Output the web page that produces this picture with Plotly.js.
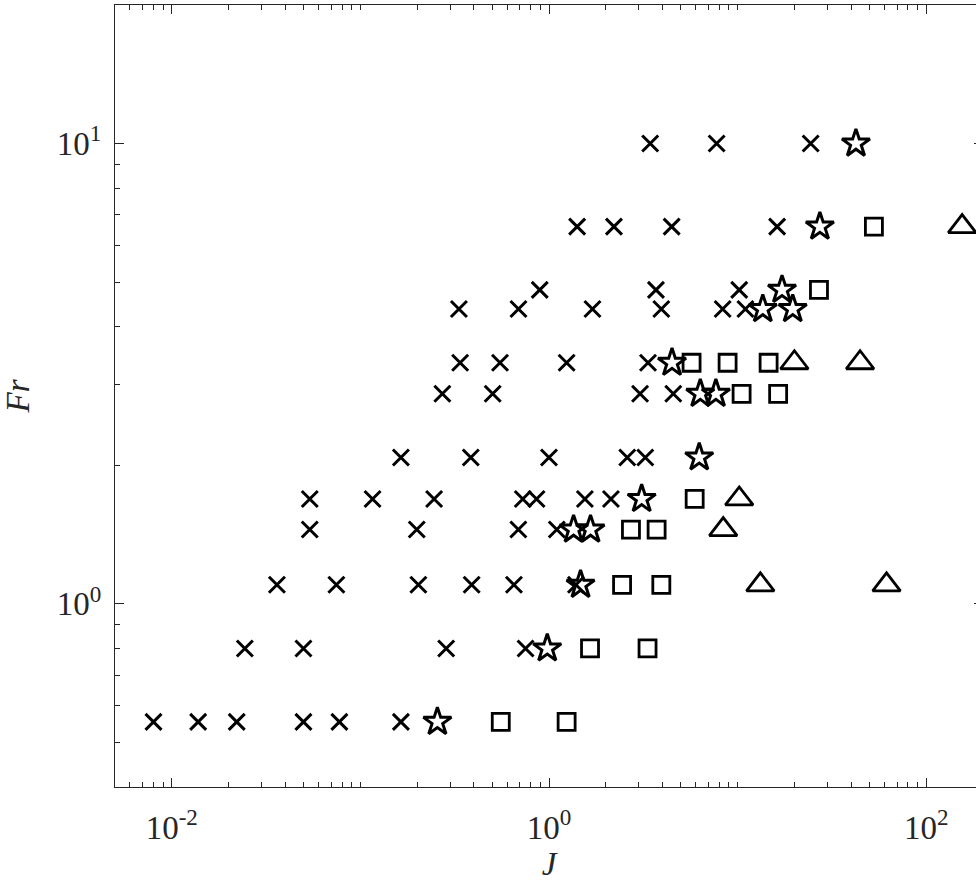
<!DOCTYPE html>
<html>
<head>
<meta charset="utf-8">
<script src="https://cdn.plot.ly/plotly-3.0.1.min.js"></script>
<style>
html, body { margin: 0; padding: 0; overflow: hidden; background: #fff; }
#chart { width: 1000px; height: 889px; }
</style>
</head>
<body>
<div id="chart"></div>
<script>
// Crosses (x markers)
var crossJ  = [3.44, 7.74, 24.4,
               1.41, 2.21, 4.47, 16.2,
               0.893, 3.69, 10.2,
               0.333, 0.689, 1.70, 3.94, 8.33, 11.0,
               0.338, 0.550, 1.24, 3.35,
               0.272, 0.503, 3.04, 4.56,
               0.164, 0.385, 1.00, 2.60, 3.24,
               0.0539, 0.116, 0.246, 0.726, 0.859, 1.55, 2.13,
               0.0539, 0.199, 0.688, 1.10,
               0.0361, 0.0746, 0.203, 0.389, 0.652, 1.39,
               0.0244, 0.0499, 0.285, 0.751,
               0.0080, 0.0138, 0.0221, 0.0499, 0.0774, 0.164];
var crossFr = [10, 10, 10,
               6.6, 6.6, 6.6, 6.6,
               4.81, 4.81, 4.81,
               4.37, 4.37, 4.37, 4.37, 4.37, 4.37,
               3.34, 3.34, 3.34, 3.34,
               2.86, 2.86, 2.86, 2.86,
               2.08, 2.08, 2.08, 2.08, 2.08,
               1.69, 1.69, 1.69, 1.69, 1.69, 1.69, 1.69,
               1.45, 1.45, 1.45, 1.45,
               1.10, 1.10, 1.10, 1.10, 1.10, 1.10,
               0.80, 0.80, 0.80, 0.80,
               0.554, 0.554, 0.554, 0.554, 0.554, 0.554];

// Stars
var starJ  = [42.4, 27.3, 17.2, 13.6, 19.6, 4.49, 6.34, 7.67, 6.26, 3.10, 1.35, 1.66, 1.47, 0.979, 0.256];
var starFr = [10, 6.6, 4.81, 4.37, 4.37, 3.34, 2.86, 2.86, 2.08, 1.69, 1.45, 1.45, 1.10, 0.80, 0.554];

// Squares
var squareJ  = [52.8, 27.0, 5.70, 8.85, 14.6, 10.5, 16.4, 5.92, 2.72, 3.72, 2.44, 3.94, 1.65, 3.33, 0.555, 1.24];
var squareFr = [6.6, 4.81, 3.34, 3.34, 3.34, 2.86, 2.86, 1.69, 1.45, 1.45, 1.10, 1.10, 0.80, 0.80, 0.554, 0.554];

// Triangles
var triJ  = [155, 20.0, 44.6, 10.2, 8.39, 13.2, 61.6];
var triFr = [6.6, 3.34, 3.34, 1.69, 1.45, 1.10, 1.10];

// Axis ticks and labels
var xTickVals = [0.01, 1, 100];
var xTickText = ['10<sup>-2</sup>', '10<sup>0</sup>', '10<sup>2</sup>'];
var xMinorVals = [0.006, 0.007, 0.008, 0.009,
                  0.02, 0.03, 0.04, 0.05, 0.06, 0.07, 0.08, 0.09, 0.1,
                  0.2, 0.3, 0.4, 0.5, 0.6, 0.7, 0.8, 0.9,
                  2, 3, 4, 5, 6, 7, 8, 9, 10,
                  20, 30, 40, 50, 60, 70, 80, 90,
                  200];
var yTickVals = [1, 10];
var yTickText = ['10<sup>0</sup>', '10<sup>1</sup>'];
var yMinorVals = [0.4, 0.5, 0.6, 0.7, 0.8, 0.9, 2, 3, 4, 5, 6, 7, 8, 9, 20];

var xTitle = 'J';
var yTitle = 'Fr';

var ink = '#000000';
var axisInk = '#262626';
var serif = 'Liberation Serif';

var xRange = [Math.log10(0.005), Math.log10(200)];
var yRange = [Math.log10(0.4), Math.log10(20)];

var traces = [
  {x: crossJ, y: crossFr, type: 'scatter', mode: 'markers',
   marker: {symbol: 'x-thin-open', size: 16, color: ink, line: {color: ink, width: 3}}},
  {x: squareJ, y: squareFr, type: 'scatter', mode: 'markers',
   marker: {symbol: 'square-open', size: 17, color: ink, line: {color: ink, width: 2.8}}},
  {x: triJ, y: triFr, type: 'scatter', mode: 'markers',
   marker: {symbol: 'triangle-up-open', size: 24, color: ink, line: {color: ink, width: 2.8}}},
  {x: starJ, y: starFr, type: 'scatter', mode: 'markers',
   marker: {symbol: 'star-open', size: 21, color: ink, line: {color: ink, width: 3}}},
  // empty trace so the top/right tick axes exist
  {x: [], y: [], type: 'scatter', mode: 'markers', xaxis: 'x2', yaxis: 'y2', hoverinfo: 'skip'}
];

function axisBase(minorVals) {
  return {
    type: 'log',
    showgrid: false,
    zeroline: false,
    showline: true,
    linecolor: axisInk,
    linewidth: 1,
    mirror: 'ticks',
    ticks: 'inside',
    ticklen: 9,
    tickwidth: 1,
    tickcolor: axisInk,
    tickmode: 'array',
    tickfont: {family: serif, size: 33, color: axisInk},
    minor: {ticks: 'inside', ticklen: 5, tickwidth: 1, tickcolor: axisInk,
            tickmode: 'array', tickvals: minorVals, showgrid: false}
  };
}

var layout = {
  width: 1000,
  height: 889,
  margin: {l: 115, r: 17, t: 5, b: 102},
  paper_bgcolor: '#ffffff',
  plot_bgcolor: '#ffffff',
  showlegend: false,
  xaxis: Object.assign(axisBase(xMinorVals), {
    range: xRange,
    tickvals: xTickVals,
    ticktext: xTickText,
    ticklabelstandoff: 11,
    title: {text: '<i>' + xTitle + '</i>', font: {family: serif, size: 33, color: axisInk}, standoff: 7}
  }),
  yaxis: Object.assign(axisBase(yMinorVals), {
    range: yRange,
    tickvals: yTickVals,
    ticktext: yTickText,
    ticklabelstandoff: 6,
    title: {text: '<i>' + yTitle + '</i>', font: {family: serif, size: 33, color: axisInk}, standoff: 24}
  }),
  xaxis2: Object.assign(axisBase(xMinorVals), {
    range: xRange, overlaying: 'x', side: 'top', anchor: 'y2',
    tickvals: xTickVals, showticklabels: false, mirror: false, showline: false
  }),
  yaxis2: Object.assign(axisBase(yMinorVals), {
    range: yRange, overlaying: 'y', side: 'right', anchor: 'x2',
    tickvals: yTickVals, showticklabels: false, mirror: false, showline: false
  })
};

Plotly.newPlot('chart', traces, layout, {displayModeBar: false, staticPlot: true});
</script>
</body>
</html>
